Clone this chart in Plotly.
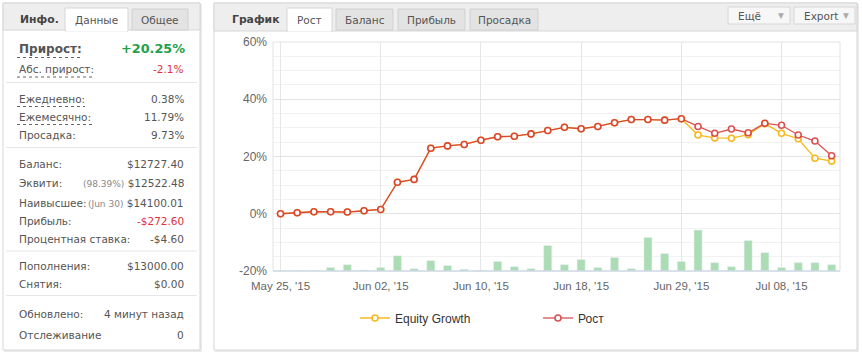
import plotly.graph_objects as go

dates = ["2015-05-25", "2015-05-26", "2015-05-27", "2015-05-28", "2015-05-29", "2015-06-01",
         "2015-06-02", "2015-06-03", "2015-06-04", "2015-06-05", "2015-06-08", "2015-06-09",
         "2015-06-10", "2015-06-11", "2015-06-12", "2015-06-15", "2015-06-16", "2015-06-17",
         "2015-06-18", "2015-06-19", "2015-06-22", "2015-06-23", "2015-06-24", "2015-06-25",
         "2015-06-29", "2015-06-30", "2015-07-01", "2015-07-02", "2015-07-06", "2015-07-07",
         "2015-07-08", "2015-07-09", "2015-07-10", "2015-07-13"]

growth = [0.0, 0.35, 0.7, 0.7, 0.6, 1.05, 1.5, 11.0, 12.0, 22.9, 23.7, 24.2, 25.7, 26.9,
          27.1, 27.9, 29.1, 30.2, 29.7, 30.5, 31.8, 32.9, 32.9, 32.7, 33.2, 30.5, 28.1,
          29.6, 28.3, 31.6, 30.9, 27.5, 25.4, 20.25]

equity = [0.0, 0.35, 0.7, 0.7, 0.6, 1.05, 1.5, 11.0, 12.0, 22.9, 23.7, 24.2, 25.7, 26.9,
          27.1, 27.9, 29.1, 30.2, 29.7, 30.5, 31.8, 32.9, 32.9, 32.7, 33.2, 27.5, 26.5,
          26.4, 27.6, 31.5, 28.1, 26.2, 19.4, 18.4]

activity = [0, 0, 0, 1.2, 2.2, 0.25, 1.2, 5.3, 0.8, 3.6, 1.9, 0.6, 0.25, 3.3, 1.5, 0.8,
            8.9, 2.2, 4.0, 1.2, 4.7, 0.8, 11.7, 6.1, 3.3, 14.3, 2.9, 1.5, 10.6, 6.4, 1.2,
            2.9, 2.9, 2.2]

tick_dates = ["2015-05-25", "2015-06-02", "2015-06-10", "2015-06-18", "2015-06-29", "2015-07-08"]
tick_labels = ["May 25, '15", "Jun 02, '15", "Jun 10, '15", "Jun 18, '15", "Jun 29, '15", "Jul 08, '15"]

y_ticks = [-20, 0, 20, 40, 60]
y_tick_labels = ["-20%", "0%", "20%", "40%", "60%"]

info_rows = [
    ("Ежедневно:", "0.38%"),
    ("Ежемесячно:", "11.79%"),
    ("Просадка:", "9.73%"),
    ("Баланс:", "$12727.40"),
    ("Эквити:", "<span style='font-size:9px;color:#888'>(98.39%)</span> $12522.48"),
    ("Наивысшее:", "<span style='font-size:9px;color:#888'>(Jun 30)</span> $14100.01"),
    ("Прибыль:", "<span style='color:#e0303a'>-$272.60</span>"),
    ("Процентная ставка:", "-$4.60"),
    ("Пополнения:", "$13000.00"),
    ("Снятия:", "$0.00"),
    ("Обновлено:", "4 минут назад"),
    ("Отслеживание", "0"),
]

# ---------------------------------------------------------------- geometry
W, H = 862, 354
L, R, T, B = 273, 840, 42, 271


def px(x):
    return (x - L) / (R - L)


def py(y):
    return (B - y) / (B - T)


RED = "rgb(214,52,52)"
YEL = "rgb(247,184,30)"
FONT = "DejaVu Sans"
CHART_FONT = "Liberation Sans"
FS = 10.5

fig = go.Figure()

fig.add_trace(go.Bar(
    x=dates, y=activity, yaxis="y2", marker_color="#abdcb3", width=0.48,
    showlegend=False, hoverinfo="skip"))

fig.add_trace(go.Scatter(
    x=dates, y=equity, name="Equity Growth", mode="lines+markers",
    line=dict(color=YEL, width=1.3),
    marker=dict(symbol="circle", size=6, color="white", line=dict(color=YEL, width=1.6))))

fig.add_trace(go.Scatter(
    x=dates, y=growth, name="Рост", mode="lines+markers", opacity=0.85,
    line=dict(color=RED, width=1.3),
    marker=dict(symbol="circle", size=6, color="white", line=dict(color=RED, width=1.6))))

shapes = []
annotations = []


def rect(x0, y0, x1, y1, fill, line="rgba(0,0,0,0)", lw=1, layer="below"):
    shapes.append(dict(type="rect", xref="paper", yref="paper",
                       x0=px(x0), x1=px(x1), y0=py(y0), y1=py(y1),
                       fillcolor=fill, line=dict(color=line, width=lw), layer=layer))


def hline(x0, x1, y, color, dash="solid", lw=1, layer="below"):
    shapes.append(dict(type="line", xref="paper", yref="paper",
                       x0=px(x0), x1=px(x1), y0=py(y), y1=py(y),
                       line=dict(color=color, width=lw, dash=dash), layer=layer))


def text(x, y, s, anchor="left", size=FS, color="#555", bold=False, family=FONT):
    if bold:
        s = "<b>" + s + "</b>"
    annotations.append(dict(xref="paper", yref="paper", x=px(x), y=py(y), text=s,
                            xanchor=anchor, yanchor="middle", showarrow=False,
                            font=dict(size=size, color=color, family=family)))


# ---------------------------------------------------------------- left panel
rect(4, 4, 202, 352, "#ebebeb")
rect(3, 3, 200, 350, "white", "#d6d6d6")
rect(3, 3, 200, 30, "#eeeeee", "#d6d6d6")
rect(65, 8, 128, 31, "white", "#d6d6d6")
hline(66, 127, 30.5, "white", lw=2)
rect(132, 9, 188, 30, "#e3e3e3", "#d0d0d0")
text(18, 19, "Инфо.", size=10.8, color="#444", bold=True)
text(96.5, 19.5, "Данные", anchor="center", size=FS, color="#555")
text(160, 19.5, "Общее", anchor="center", size=FS, color="#555")

text(17, 49, "Прирост:", size=12, color="#555", bold=True)
text(187, 49, "+20.25%", anchor="right", size=12.8, color="#23a04b", bold=True)
hline(17, 81, 57.5, "#666", dash="dot")
text(17, 69, "Абс. прирост:", size=FS)
text(185, 69, "-2.1%", anchor="right", size=FS, color="#e0303a")
hline(17, 95, 77, "#666", dash="dot")
hline(6, 197, 82.5, "#e6e6e6")

row_y = [99, 117, 135, 164, 183, 202.5, 220.5, 239, 265.5, 284, 313.5, 334.5]
for (lab, val), yy in zip(info_rows, row_y):
    text(17, yy, lab, size=FS)
    text(186, yy, val, anchor="right", size=FS)
hline(17, 85, 106.5, "#666", dash="dot")
hline(17, 93, 124.5, "#666", dash="dot")
hline(6, 197, 147.5, "#e6e6e6")
hline(6, 197, 251, "#e6e6e6")
hline(6, 197, 295.5, "#e6e6e6")

# ---------------------------------------------------------------- chart panel
rect(215, 4, 859, 352, "#ebebeb")
rect(214, 3, 857, 350, "white", "#d6d6d6")
rect(214, 3, 857, 31, "#eeeeee", "#d6d6d6")
text(230, 19, "График", size=10.8, color="#444", bold=True)
rect(287, 8, 332, 31, "white", "#d6d6d6")
hline(288, 331, 30.5, "white", lw=2)
text(309.5, 19.5, "Рост", anchor="center", size=FS)
for x0, x1, lab in [(336, 393, "Баланс"), (398, 465, "Прибыль"), (470, 538, "Просадка")]:
    rect(x0, 9, x1, 30, "#e3e3e3", "#d0d0d0")
    text((x0 + x1) / 2, 19.5, lab, anchor="center", size=FS)
for x0, x1, lab in [(728, 790, "Ещё"), (794, 855, "Export")]:
    rect(x0, 7, x1, 24, "#f7f7f7", "#d6d6d6")
    text(x0 + 8, 15.5, lab, size=10.5, color="#555")
    text(x1 - 9, 15.5, "▼", anchor="center", size=7.5, color="#aaa")

# plot border
rect(L, T, R, B, "rgba(0,0,0,0)", "#e2e2e2", layer="above")
hline(L, R, B, "#c0d0e0", layer="above")

fig.update_layout(
    width=W, height=H,
    margin=dict(l=L, r=W - R, t=T, b=H - B, pad=0),
    paper_bgcolor="white", plot_bgcolor="rgba(0,0,0,0)",
    shapes=shapes, annotations=annotations,
    bargap=0.5,
    xaxis=dict(type="category", categoryorder="array", categoryarray=dates,
               range=[-0.45, len(dates) - 0.5],
               tickmode="array", tickvals=tick_dates, ticktext=tick_labels,
               showgrid=True, gridcolor="#e6e6e6", gridwidth=1,
               ticks="", showline=False, zeroline=False,
               tickfont=dict(family=CHART_FONT, size=11.5, color="#666"), ticklabelstandoff=6),
    yaxis=dict(range=[-20, 60], tickmode="array", tickvals=y_ticks, ticktext=y_tick_labels,
               showgrid=True, gridcolor="#e2e2e2", zeroline=False, showline=False,
               minor=dict(dtick=5, tick0=0, showgrid=True, gridcolor="#f2f2f2"),
               tickfont=dict(family=CHART_FONT, size=12, color="#666"), ticklabelstandoff=5),
    yaxis2=dict(range=[0, 80], overlaying="y", side="right", visible=False, showgrid=False),
    legend=dict(orientation="h", x=px(355), y=py(318), xanchor="left", yanchor="middle",
                font=dict(family=CHART_FONT, size=12, color="#333"),
                entrywidth=138, itemwidth=30, bgcolor="rgba(0,0,0,0)"),
    showlegend=True,
)

fig.write_html("out.html")
